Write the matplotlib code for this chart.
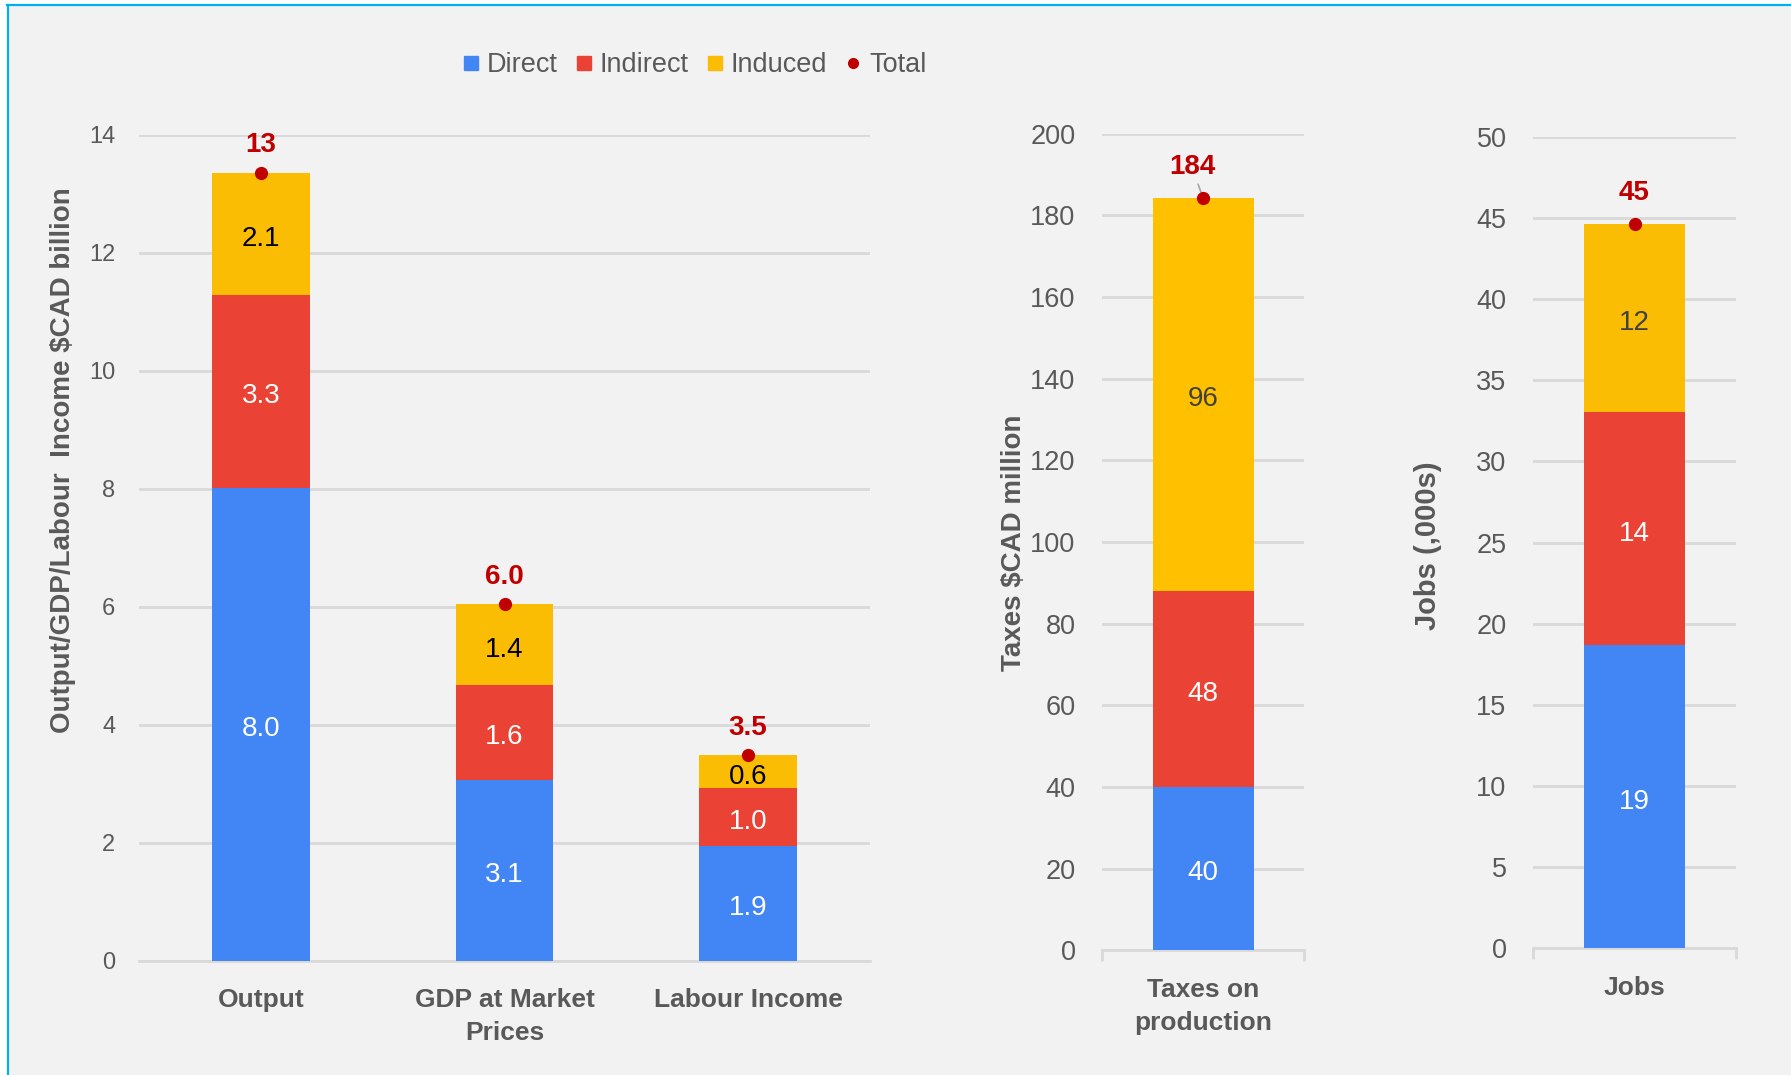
import matplotlib
matplotlib.use("Agg")
import matplotlib.pyplot as plt
from matplotlib.lines import Line2D
from matplotlib.patches import Rectangle

plt.rcParams['font.family'] = ['Liberation Sans', 'DejaVu Sans']

# economic impact, $CAD billion
econ_cats = ["Output", "GDP at Market\nPrices", "Labour Income"]
econ_direct = [8.01, 3.06, 1.94]
econ_indirect = [3.28, 1.61, 0.98]
econ_induced = [2.06, 1.37, 0.56]

# taxes, $CAD million
tax_cats = ["Taxes on\nproduction"]
tax_direct = [40.0]
tax_indirect = [48.1]
tax_induced = [96.2]

# jobs, thousands
job_cats = ["Jobs"]
job_direct = [18.66]
job_indirect = [14.37]
job_induced = [11.61]

series_names = ["Direct", "Indirect", "Induced", "Total"]

BLUE = "#4285f4"
RED = "#ea4335"
YELLOW = "#fbbc04"
TOTAL = "#c00000"
GREY = "#595959"
GRID = "#d9d9d9"
BG = "#f2f2f2"


def fmt(v):
    return "%.0f" % v if v >= 10 else "%.1f" % v


def seg_label(ax, x, y, s, color):
    ax.annotate(s, (x, y), xytext=(0, -3.5), textcoords='offset points',
                ha='center', va='center', color=color, fontsize=20, zorder=4)


def stacked(ax, cats, d, i, n, width, tick_size, yellow_txt, yellow=YELLOW):
    x = list(range(len(cats)))
    bottom2 = [a + b for a, b in zip(d, i)]
    totals = [a + b + c for a, b, c in zip(d, i, n)]
    ax.bar(x, d, width, color=BLUE, zorder=3)
    ax.bar(x, i, width, bottom=d, color=RED, zorder=3)
    ax.bar(x, n, width, bottom=bottom2, color=yellow, zorder=3)
    for k in x:
        seg_label(ax, k, d[k] / 2, fmt(d[k]), 'white')
        seg_label(ax, k, d[k] + i[k] / 2, fmt(i[k]), 'white')
        seg_label(ax, k, bottom2[k] + n[k] / 2, fmt(n[k]), yellow_txt)
    ax.plot(x, totals, 'o', color=TOTAL, markersize=8.5, zorder=5)
    ax.set_facecolor(BG)
    for s in ['top', 'right', 'left']:
        ax.spines[s].set_visible(False)
    ax.spines['bottom'].set_color(GRID)
    ax.spines['bottom'].set_linewidth(2)
    ax.yaxis.grid(True, color=GRID, linewidth=2, zorder=0)
    ax.set_axisbelow(True)
    ax.set_xticks(x)
    ax.set_xticklabels(cats, fontsize=19, fontweight='bold', color=GREY,
                       linespacing=1.45)
    ax.tick_params(axis='x', length=0, pad=20)
    ax.tick_params(axis='y', length=0, labelsize=tick_size, labelcolor=GREY)
    ax.set_xlim(-0.5, len(cats) - 0.5)
    return x, totals


fig = plt.figure(figsize=(17.91, 10.75), dpi=100, facecolor=BG)

# white strip and cyan frame along the top and left edges
fig.patches.append(Rectangle((0, 1 - 3 / 1075), 1, 3 / 1075,
                             transform=fig.transFigure, color='white', zorder=0))
fig.patches.append(Rectangle((0, 0), 7 / 1791, 1,
                             transform=fig.transFigure, color='white', zorder=0))
fig.add_artist(Line2D([7.5 / 1791, 1], [1 - 4.5 / 1075, 1 - 4.5 / 1075],
                      transform=fig.transFigure, color='#00b0f0', linewidth=1.6))
fig.add_artist(Line2D([8 / 1791, 8 / 1791], [0, 1 - 4.5 / 1075],
                      transform=fig.transFigure, color='#00b0f0', linewidth=1.6))

# left panel
ax1 = fig.add_axes([139 / 1791, 0.1064, 731 / 1791, 0.7682])
x1, t1 = stacked(ax1, econ_cats, econ_direct, econ_indirect, econ_induced,
                 0.4, 17, 'black')
ax1.set_ylim(0, 14)
ax1.set_yticks(range(0, 15, 2))
ax1.tick_params(axis='y', pad=17)
for k in x1:
    ax1.annotate(fmt(t1[k]), (k, t1[k]), xytext=(0, 20), textcoords='offset points',
                 ha='center', va='center', color=TOTAL, fontsize=20,
                 fontweight='bold')
fig.text(63 / 1791, 1 - 460 / 1075, "Output/GDP/Labour  Income $CAD billion",
         rotation=90, ha='center', va='center', fontsize=20, fontweight='bold',
         color=GREY)

# taxes panel
ax2 = fig.add_axes([1102 / 1791, 0.116, 202 / 1791, 0.7597])
x2, t2 = stacked(ax2, tax_cats, tax_direct, tax_indirect, tax_induced,
                 0.5, 19.5, '#404040', yellow='#ffc000')
ax2.set_ylim(0, 200)
ax2.set_yticks(range(0, 201, 20))
ax2.tick_params(axis='y', pad=19)
ax2.set_xticks([-0.5, 0.5], minor=True)
ax2.tick_params(axis='x', which='minor', length=8, width=2, color=GRID)
ax2.annotate(fmt(t2[0]), (0, t2[0]), xytext=(-8, 22), textcoords='offset points',
             ha='center', va='center', color=TOTAL, fontsize=20, fontweight='bold',
             arrowprops=dict(arrowstyle='-', color='#a6a6a6', lw=1.2,
                             shrinkA=1, shrinkB=2))
fig.text(1014 / 1791, 1 - 475 * 1.1422 / 1075, "Taxes $CAD million", rotation=90,
         ha='center', va='center', fontsize=20, fontweight='bold', color=GREY)

# jobs panel
ax3 = fig.add_axes([1533 / 1791, 0.1181, 203 / 1791, 0.7544])
x3, t3 = stacked(ax3, job_cats, job_direct, job_indirect, job_induced,
                 0.5, 19.5, '#404040')
ax3.set_ylim(0, 50)
ax3.set_yticks(range(0, 51, 5))
ax3.tick_params(axis='y', pad=19)
ax3.set_xticks([-0.5, 0.5], minor=True)
ax3.tick_params(axis='x', which='minor', length=8, width=2, color=GRID)
ax3.annotate(fmt(t3[0]), (0, t3[0]), xytext=(0, 22), textcoords='offset points',
             ha='center', va='center', color=TOTAL, fontsize=20, fontweight='bold')
fig.text(1428 / 1791, 1 - 478 * 1.1422 / 1075, "Jobs (,000s)", rotation=90,
         ha='center', va='center', fontsize=21, fontweight='bold', color=GREY)

handles = [
    Line2D([], [], marker='s', linestyle='none', color=BLUE, markersize=10),
    Line2D([], [], marker='s', linestyle='none', color=RED, markersize=10),
    Line2D([], [], marker='s', linestyle='none', color=YELLOW, markersize=10),
    Line2D([], [], marker='o', linestyle='none', color=TOTAL, markersize=7),
]
fig.legend(handles, series_names, loc='center',
           bbox_to_anchor=(695 / 1791, 1 - 65 / 1075),
           ncol=4, frameon=False, fontsize=19.5, labelcolor=GREY,
           handlelength=0.55, handletextpad=0.3, columnspacing=0.7)

fig.savefig("out.png", dpi=100, facecolor=BG)
